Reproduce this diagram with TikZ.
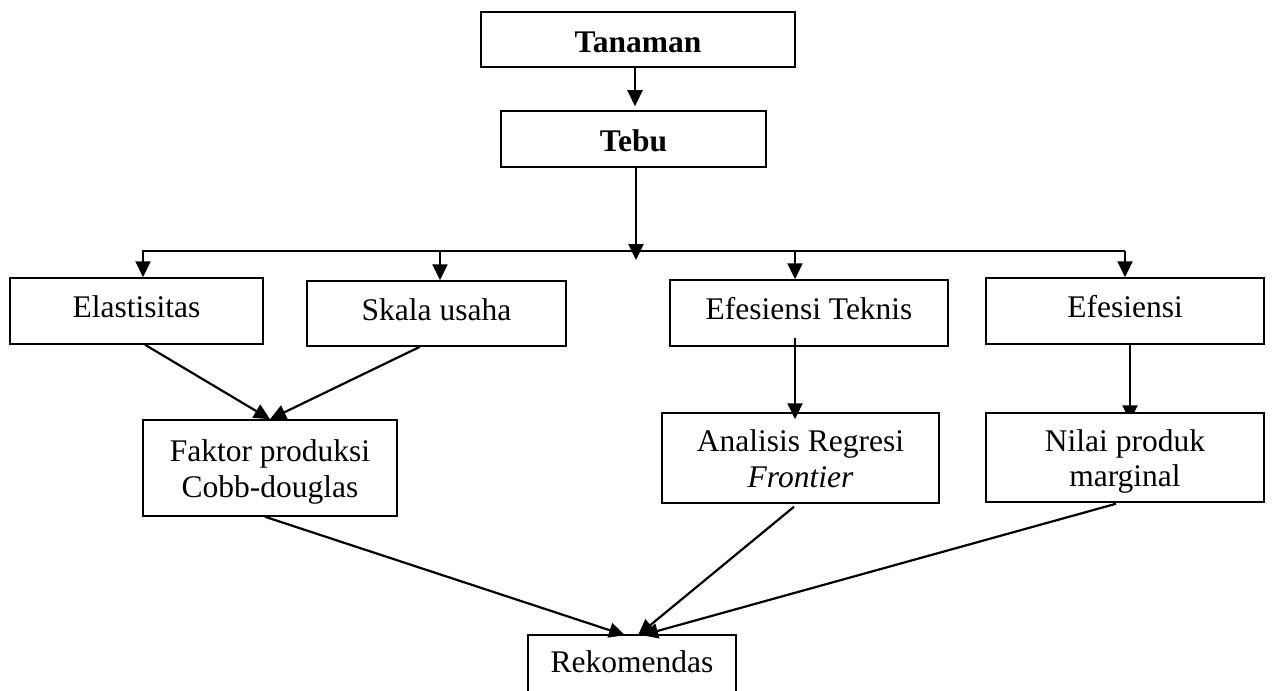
\documentclass[tikz,border=0pt]{standalone}
\usepackage{fontspec}
\setmainfont{Liberation Serif}
\usetikzlibrary{arrows.meta,backgrounds}
\begin{document}
\begin{tikzpicture}[x=1pt,y=-1pt,
  box/.style={draw, line width=1.5pt, fill=white, inner sep=0pt,
    font=\fontsize{31.5pt}{35.5pt}\selectfont, text height=21.7pt, text depth=7.9pt},
  boldbox/.style={box, font=\fontsize{31.5pt}{35.5pt}\selectfont\bfseries, text height=25.2pt, text depth=0pt},
  twobox/.style={box, align=center, text height=58pt, text depth=0pt},
  conn/.style={line width=2.2pt},
  arr/.style={conn, -{Triangle[length=16pt,width=15pt]}}]
\useasboundingbox (0,0) rectangle (1273,690);
\clip (0,0) rectangle (1273,690);

% nodes
\node[boldbox, minimum width=314pt, minimum height=55pt] (tanaman) at (638,39.5) {Tanaman};
\node[boldbox, minimum width=265pt, minimum height=56pt] (tebu) at (633.5,139) {Tebu};
\node[box, minimum width=253pt, minimum height=66pt] (elast) at (136.5,311) {Elastisitas};
\node[box, minimum width=259pt, minimum height=65pt] (skala) at (436.5,313.5) {Skala usaha};
\node[box, minimum width=278pt, minimum height=66pt] (teknis) at (809,313) {Efesiensi Teknis};
\node[box, minimum width=278pt, minimum height=66pt] (efes) at (1125,311) {Efesiensi};
\node[twobox, minimum width=254pt, minimum height=96pt] (faktor) at (270,468) {Faktor produksi\\Cobb-douglas};
\node[twobox, minimum width=277pt, minimum height=90pt] (analisis) at (800.5,458) {Analisis Regresi\\\textit{Frontier}};
\node[twobox, minimum width=278pt, minimum height=89pt] (nilai) at (1125,457.5) {Nilai produk\\marginal};
\node[box, minimum width=208pt, minimum height=62pt] (rekom) at (632,666) {Rekomendas};

% helper coordinates
\coordinate (hub) at (636,260);
\coordinate (busL) at (143,251);
\coordinate (busR) at (1125,251);
\coordinate (b2) at (440,251);
\coordinate (b3) at (795,251);
\coordinate (ta) at ([xshift=-3pt]tanaman.south);
\coordinate (tb) at ([yshift=4pt]tebu.north);
\coordinate (tc) at ([xshift=2.5pt]tebu.south);
\coordinate (t1) at ([xshift=-14pt,yshift=9pt]teknis.south);
\coordinate (t2) at ([yshift=-7pt]analisis.north);

% connectors
\draw[arr] (ta) -- (ta |- tb);
\draw[arr] (tc) -- (hub);
\draw[arr] (busR) -- (busL) -- (busL |- elast.north);
\draw[arr] (busR) -- (busR |- efes.north);
\draw[arr] (b2) -- (b2 |- skala.north);
\draw[arr] (b3) -- (b3 |- teknis.north);

\draw[arr] ([xshift=8.5pt]elast.south) -- (faktor.north);
\draw[arr] ([xshift=-16.5pt]skala.south) -- (faktor.north);
\draw[arr] (t1) -- (t1 |- t2);
\begin{pgfonlayer}{background}
\draw[arr] ([xshift=5pt]efes.south) -- ([xshift=5pt,yshift=-9pt]nilai.north);
\end{pgfonlayer}

\draw[arr] ([xshift=-5pt]faktor.south) -- ([xshift=-7pt,yshift=-1pt]rekom.north);
\draw[arr] ([xshift=-6.5pt,yshift=-3pt]analisis.south) -- ([xshift=6pt,yshift=-1pt]rekom.north);
\draw[arr] ([xshift=-9pt,yshift=-1pt]nilai.south) -- ([xshift=10pt,yshift=-1pt]rekom.north);
\end{tikzpicture}
\end{document}
